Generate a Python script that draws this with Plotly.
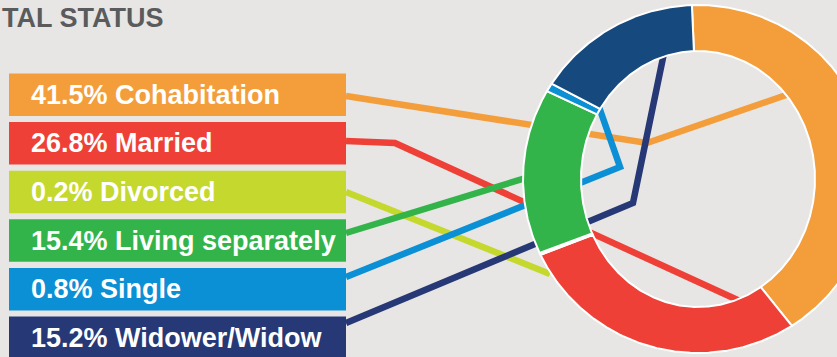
import math
import plotly.graph_objects as go

# ---------------- data ----------------
categories = ["Cohabitation", "Married", "Divorced", "Living separately", "Single", "Widower/Widow"]
shares = [41.5, 26.8, 0.2, 15.4, 0.8, 15.2]
title_text = "TAL STATUS"  # visible part of the (cropped) heading

# ---------------- style ----------------
label_colors = ["#F49D3B", "#EF4037", "#C4D82E", "#33B44A", "#0B8FD5", "#263876"]
ring_colors = ["#F49D3B", "#EF4037", "#C4D82E", "#33B44A", "#0B8FD5", "#16497D"]
bg = "#E7E6E4"
W, H = 837, 357
FONT = "Liberation Sans, Arial, Helvetica, sans-serif"

# donut geometry (pixel space)
cx, cy = 698.0, 179.0
r_out_x, r_out_y = 175.0, 174.0
r_in_x, r_in_y = 117.0, 128.0
start_deg = -2.0

# label boxes
box_x0, box_x1 = 9.0, 346.0
box_top0, box_step, box_h = 73.5, 48.6, 42.5

# connector routes (pixel space, from box edge to the ring)
routes = [
    [(346, 96), (647, 143), (792, 93)],
    [(346, 141), (395, 143), (742, 302)],
    [(346, 192), (550, 274)],
    [(346, 233), (565, 166)],
    [(346, 277), (620, 167), (598, 104)],
    [(346, 323), (633, 203), (664, 53)],
]

fig = go.Figure()

# connectors (drawn first so the ring covers them)
for route, col in zip(routes, label_colors):
    fig.add_trace(go.Scatter(
        x=[p[0] for p in route], y=[p[1] for p in route],
        mode="lines", line=dict(color=col, width=6.5),
        hoverinfo="skip", showlegend=False))

# donut ring slices computed from the shares
total = sum(shares)
acc = 0.0
for cat, v, col in zip(categories, shares, ring_colors):
    a0 = start_deg + 360.0 * acc / total
    acc += v
    a1 = start_deg + 360.0 * acc / total
    n = max(3, int(abs(a1 - a0) * 2))
    angs = [math.radians(a0 + (a1 - a0) * i / n) for i in range(n + 1)]
    xs = [cx + r_out_x * math.sin(a) for a in angs]
    ys = [cy - r_out_y * math.cos(a) for a in angs]
    xs += [cx + r_in_x * math.sin(a) for a in reversed(angs)]
    ys += [cy - r_in_y * math.cos(a) for a in reversed(angs)]
    xs.append(xs[0])
    ys.append(ys[0])
    fig.add_trace(go.Scatter(
        x=xs, y=ys, mode="lines", fill="toself", fillcolor=col,
        line=dict(color="white", width=2), name=cat,
        hovertemplate=f"{cat}: {v}%<extra></extra>", showlegend=False))

# label boxes + texts
shapes = []
annotations = []
for i, (cat, v, col) in enumerate(zip(categories, shares, label_colors)):
    y0 = box_top0 + i * box_step
    shapes.append(dict(type="rect", xref="x", yref="y", x0=box_x0, x1=box_x1,
                       y0=y0, y1=y0 + box_h, fillcolor=col, line=dict(width=0),
                       layer="below"))
    annotations.append(dict(x=29, y=y0 + box_h / 2, xref="x", yref="y",
                            xanchor="left", yanchor="middle", showarrow=False,
                            text=f"{v:.1f}% {cat}",
                            font=dict(family=FONT, size=27, color="white", weight="bold")))

annotations.append(dict(x=0, y=18, xref="x", yref="y", xanchor="left",
                        yanchor="middle", showarrow=False, text=title_text,
                        font=dict(family=FONT, size=27, color="#5A5B5D", weight="bold")))

fig.update_layout(
    width=W, height=H, margin=dict(l=0, r=0, t=0, b=0),
    paper_bgcolor=bg, plot_bgcolor=bg,
    xaxis=dict(range=[0, W], visible=False, fixedrange=True),
    yaxis=dict(range=[H, 0], visible=False, fixedrange=True),
    shapes=shapes, annotations=annotations, showlegend=False,
)

fig.write_html(
    "out.html",
    config={"displayModeBar": False},
    post_script="document.body.style.margin='0';document.body.style.background='%s';" % bg,
)
